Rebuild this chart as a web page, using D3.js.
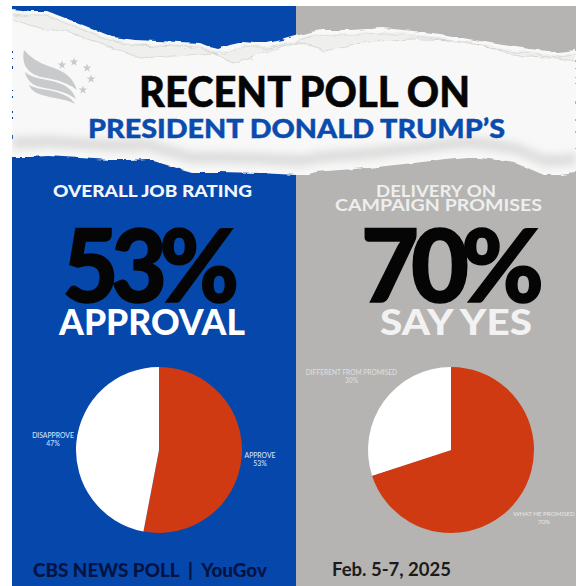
<!DOCTYPE html>
<html><head><meta charset="utf-8">
<script src="https://cdn.jsdelivr.net/npm/d3@7"></script>
<style>html,body{margin:0;padding:0;background:#fff}svg{display:block}text{font-family:Lato,Inter,"Liberation Sans",sans-serif}</style>
</head><body><svg id="c" width="576" height="586"></svg>
<script>
// Poll results
const jobCategories = ["APPROVE", "DISAPPROVE"];
const jobValues = [53, 47];
const promiseCategories = ["WHAT HE PROMISED", "DIFFERENT FROM PROMISED"];
const promiseValues = [70, 30];
const sliceColors = ["#cf3a13", "#ffffff"];

// Outline of the torn paper strip
const tornTop = [[12,9],[30,11],[47,11],[65,18],[83,25],[98,31],[113,37],[135,40],[157,41],[180,42],[200,43],[210,47],[218,49],[230,45],[243,42],[255,43],[267,43],[282,40],[296,36],[310,32],[323,30],[350,30],[383,28],[403,30],[423,32],[440,34],[457,37],[480,41],[503,45],[530,49],[557,52],[576,50]];
const tornBottom = [[576,173],[560,175],[544,175],[530,169],[515,163],[490,159],[467,157],[445,159],[423,162],[395,165],[368,168],[340,170],[316,172],[305,175],[296,175],[260,173],[221,172],[205,172],[191,172],[170,166],[147,159],[128,160],[110,160],[80,158],[48,156],[30,157],[12,157]];
const lipInner = [[12,20],[33,27],[60,31],[83,37],[98,42],[113,48],[140,58],[175,56],[213,53],[233,63],[265,52],[296,42],[323,50],[350,45],[383,40],[420,39],[457,40],[490,48],[523,57],[550,58],[576,62]];

const svg = d3.select("#c");
const defs = svg.append("defs");
const rough = defs.append("filter").attr("id","rough").attr("x","-5%").attr("y","-20%").attr("width","110%").attr("height","140%");
rough.append("feTurbulence").attr("type","fractalNoise").attr("baseFrequency","0.07 0.2").attr("numOctaves",3).attr("seed",4);
rough.append("feDisplacementMap").attr("in","SourceGraphic").attr("scale",4);
const threads = defs.append("filter").attr("id","threads").attr("x","-5%").attr("y","-30%").attr("width","110%").attr("height","160%");
threads.append("feTurbulence").attr("type","fractalNoise").attr("baseFrequency","0.05 0.14").attr("numOctaves",3).attr("seed",9);
threads.append("feDisplacementMap").attr("in","SourceGraphic").attr("scale",7);
threads.append("feGaussianBlur").attr("stdDeviation",0.7);
const soft = defs.append("filter").attr("id","soft").attr("x","-10%").attr("y","-60%").attr("width","120%").attr("height","220%");
soft.append("feGaussianBlur").attr("stdDeviation",4);

// Two colour panels
svg.append("rect").attr("x",12).attr("y",6).attr("width",284).attr("height",580).attr("fill","#0547ab");
svg.append("rect").attr("x",296).attr("y",6).attr("width",280).attr("height",580).attr("fill","#b5b4b2");

// Paper strip with a pale torn lip and grey fibres
const line = d3.line().curve(d3.curveLinear);
defs.append("clipPath").attr("id","panelClip").append("rect").attr("x",12).attr("y",6).attr("width",564).attr("height",580);
const paper = svg.append("g").attr("clip-path","url(#panelClip)");
const stripOutline = line(tornTop.concat(tornBottom))+"Z";
paper.append("path").attr("d", stripOutline).attr("fill","#f8f8f8").attr("filter","url(#rough)");
paper.append("path").attr("d", line(tornTop.map(d=>[d[0],d[1]+3]).concat(lipInner.slice().reverse()))+"Z").attr("fill","#efefed").attr("filter","url(#threads)");
paper.append("path").attr("d", line(lipInner)).attr("fill","none").attr("stroke","#b8b8b6").attr("stroke-width",.8).attr("opacity",.55).attr("filter","url(#threads)");
paper.append("path").attr("d", line(tornTop.map(d=>[d[0],d[1]+5]))).attr("fill","none").attr("stroke","#c4c4c2").attr("stroke-width",.8).attr("opacity",.6).attr("filter","url(#threads)");
// Cloudy grey shading above the lower tear, leaving a white lip
const shadeTop = tornBottom.map(d=>[d[0],d[1]-20]);
const shadeBottom = tornBottom.map(d=>[d[0],d[1]-9]);
paper.append("path").attr("d", line(shadeBottom.concat(shadeTop.slice().reverse()))+"Z").attr("fill","#cfcfce").attr("opacity",.7).attr("filter","url(#soft)");

// Emblem: three flag stripes and an arc of stars
const emblem = svg.append("g").attr("fill","#c9cacc");
const stripes = [
  "M24,50 C31,58 38,62 48,66 C60,70 72,74 77,90 C68,83 58,80 46,78 C34,76 20,70 24,50Z",
  "M25,72 C32,78 42,79 52,81 C64,84 72,88 76,99 C68,93 60,91 50,89 C38,87 28,85 25,72Z",
  "M29,85 C36,89 44,89 52,91 C62,93 71,97 75,104 C66,99 56,99 46,96 C38,94 32,92 29,85Z"];
emblem.selectAll("path.stripe").data(stripes).join("path").attr("class","stripe").attr("d",d=>d);
const starSpots = [[62,65],[74,62],[87,68],[91,79],[83,90]];
emblem.selectAll("path.star").data(starSpots).join("path").attr("class","star")
  .attr("d", d3.symbol(d3.symbolStar, 24)).attr("transform",d=>`translate(${d[0]},${d[1]})`);

// Fit each heading to its measured width
function label(t, x0, x1, base, size, fill, weight, tight, thick){
  return svg.append("text").text(t).attr("x",x0).attr("y",base)
    .attr("font-size",size).attr("font-weight",weight).attr("fill",fill)
    .attr("letter-spacing",tight||0)
    .attr("stroke",thick?fill:"none").attr("stroke-width",thick||0)
    .attr("textLength",x1-x0).attr("lengthAdjust","spacingAndGlyphs");
}
label("RECENT POLL ON",139,470,107,41.5,"#050505",900,0,.5);
label("PRESIDENT DONALD TRUMP’S",88,505,137.5,26.5,"#0a4cae",900,0,.4);
label("OVERALL JOB RATING",53,252,196.7,17.5,"#f3f6fb",900);
label("DELIVERY ON",376,496,196.5,17.5,"#eeeeee",700);
label("CAMPAIGN PROMISES",335,542,211,17.5,"#eeeeee",700);
label("53%",62.5,231.5,302,101,"#050505",900,-8,1.5);
label("70%",361,536,302,101,"#050505",900,-8,1.5);
label("APPROVAL",59,245,335,36,"#ffffff",900);
label("SAY YES",380,532,335,36,"#f2f2f2",900);
label("CBS NEWS POLL\u00a0\u00a0|\u00a0\u00a0YouGov",33,267,576.5,18.5,"#04133f",900);
label("Feb. 5-7, 2025",332,451,576,19,"#1b1b1b",700);

// Pie charts, clockwise from twelve o'clock
const pie = d3.pie().sort(null);
const arc = d3.arc().innerRadius(0);
function drawPie(cx, cy, r, values){
  const g = svg.append("g").attr("transform",`translate(${cx},${cy})`);
  g.selectAll("path").data(pie(values)).join("path")
    .attr("d", d => arc.outerRadius(r)(d)).attr("fill",(d,i)=>sliceColors[i]);
}
drawPie(159,450,83,jobValues);
drawPie(451,450,83,promiseValues);

// Slice captions
function caption(name, value, x, y, fill, size){
  const t = svg.append("g").attr("text-anchor","middle").attr("fill",fill).attr("font-size",size).attr("font-weight",500);
  t.append("text").attr("x",x).attr("y",y+2.3).text(name);
  t.append("text").attr("x",x).attr("y",y+10.3).text(value+"%");
}
caption(jobCategories[1],jobValues[1],53,436,"#d3e1fb",6.8);
caption(jobCategories[0],jobValues[0],260,455.5,"#d3e1fb",6.8);
caption(promiseCategories[1],promiseValues[1],351.5,373,"#dedede",6.6);
caption(promiseCategories[0],promiseValues[0],544,514,"#e4e4e4",6.2);
</script></body></html>
